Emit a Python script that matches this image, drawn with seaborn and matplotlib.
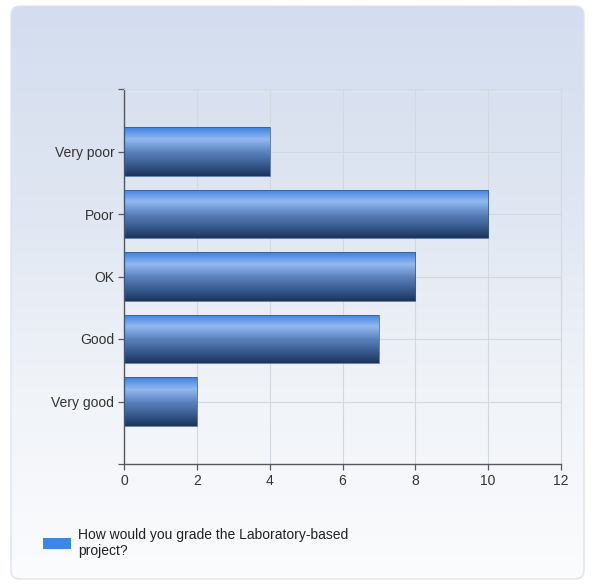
import numpy as np
import seaborn as sns
import matplotlib.pyplot as plt
from matplotlib.colors import LinearSegmentedColormap
from matplotlib.patches import FancyBboxPatch, Patch

# Dados do gráfico
categories = ['Very poor', 'Poor', 'OK', 'Good', 'Very good']
counts = [4, 10, 8, 7, 2]
x_ticks = [0, 2, 4, 6, 8, 10, 12]
legend_label = 'How would you grade the Laboratory-based\nproject?'

W, H = 593, 584
sns.set_style('white')
plt.rcParams['font.family'] = ['Liberation Sans', 'DejaVu Sans']

fig = plt.figure(figsize=(W / 100, H / 100), dpi=100)
fig.patch.set_facecolor('white')

# Fundo do cartão com gradiente e cantos arredondados
bg = fig.add_axes([0, 0, 1, 1], zorder=-5)
bg.set_xlim(0, W)
bg.set_ylim(H, 0)
bg.axis('off')
card = FancyBboxPatch((11, 6), 573, 573, boxstyle='round,pad=0,rounding_size=9',
                      facecolor='none', edgecolor='#dfe3ea', linewidth=1.0)
bg.add_patch(card)
bg_cmap = LinearSegmentedColormap.from_list('bg', ['#d3ddef', '#dfe6f2', '#f0f3f8', '#fbfcfd'])
grad = np.linspace(0, 1, 256).reshape(-1, 1)
img = bg.imshow(grad, cmap=bg_cmap, extent=[11, 584, 579, 6], aspect='auto')
img.set_clip_path(card)

# Área do gráfico
ax = fig.add_axes([124 / W, 1 - 464 / H, (561 - 124) / W, (464 - 89) / H])
ax.set_facecolor('none')
sns.barplot(x=counts, y=categories, orient='h', width=0.77, color='#3f7fd8',
            edgecolor='#35588a', linewidth=0.5, ax=ax)

# Gradiente nas barras
bar_cmap = LinearSegmentedColormap.from_list(
    'bar', [(0, '#3c80e2'), (0.25, '#93b9f0'), (0.5, '#5d84bf'),
            (0.85, '#2e4d7e'), (1.0, '#1b345c')])
for patch in ax.patches:
    x0, y0 = patch.get_x(), patch.get_y()
    w, h = patch.get_width(), patch.get_height()
    im = ax.imshow(grad, cmap=bar_cmap, extent=[x0, x0 + w, y0 + h, y0],
                   aspect='auto', zorder=2)
    im.set_clip_path(patch)
    patch.set_zorder(3)
    patch.set_facecolor('none')

ax.set_xlim(0, 12)
ax.set_ylim(5, -1)
ax.set_xticks(x_ticks)
ax.set_yticks(range(len(categories)))
ax.set_yticklabels(categories)
ax.set_yticks([-1, 5], minor=True)
ax.set_xlabel('')
ax.set_ylabel('')

ax.grid(True, which='major', color='#d3d8e0', linewidth=0.8, zorder=0)
ax.set_axisbelow(True)
ax.tick_params(axis='both', which='both', length=4, width=0.9, color='#55595f',
               labelsize=10, labelcolor='#333333', direction='out', left=True, bottom=True,
               pad=3)
for side in ['top', 'right']:
    ax.spines[side].set_color('#d3d8e0')
    ax.spines[side].set_linewidth(0.8)
for side in ['left', 'bottom']:
    ax.spines[side].set_color('#55595f')
    ax.spines[side].set_linewidth(1.0)

# Legenda
fig.legend(handles=[Patch(facecolor='#3d86e4', edgecolor='none')], labels=[legend_label],
           loc='upper left', bbox_to_anchor=(43 / W, 1 - 528 / H), frameon=False,
           fontsize=10, handlelength=2.0, handleheight=0.85, handletextpad=0.5,
           borderpad=0, borderaxespad=0, labelspacing=0, labelcolor='#222222')

plt.savefig('out.png', dpi=100)
plt.close()
